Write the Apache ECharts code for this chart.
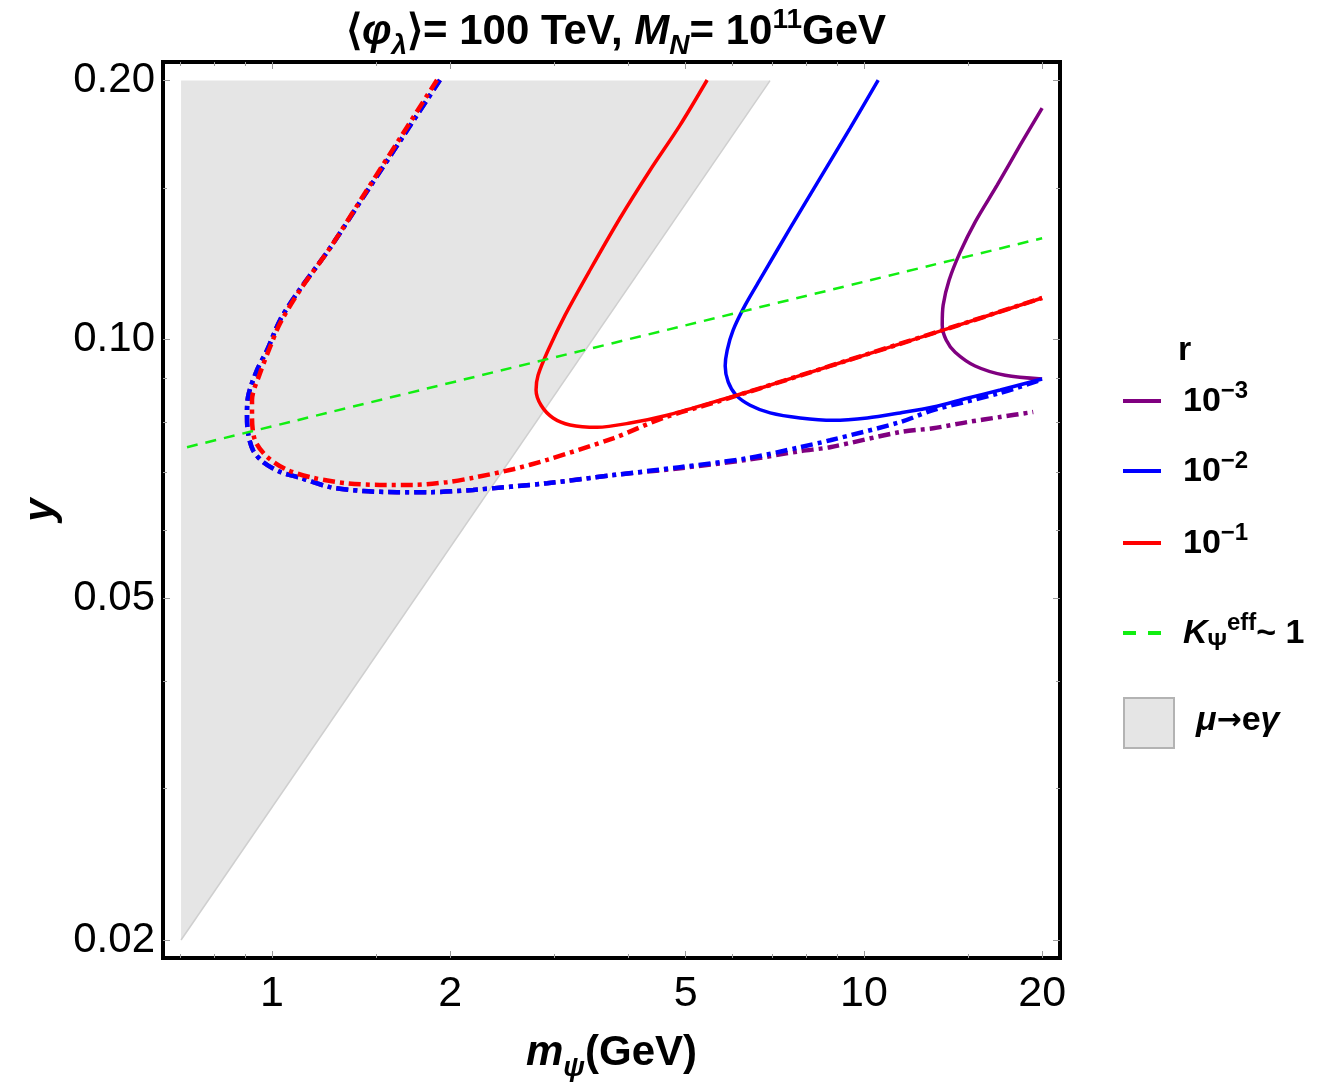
<!DOCTYPE html>
<html>
<head>
<meta charset="utf-8">
<title>y vs m_psi</title>
<script src="https://cdn.jsdelivr.net/npm/echarts@6/dist/echarts.min.js"></script>
<style>
  html, body { margin: 0; padding: 0; background: #fff; }
  #main { width: 1328px; height: 1088px; }
</style>
</head>
<body>
<div id="main"></div>
<script>
// axis ranges and ticks
const xMin = 0.6544
const xMax = 21.44
const yMin = 0.01906
const yMax = 0.2102
const xTicks = [1, 2, 5, 10, 20]
const xMinorTicks = [0.7, 0.8, 0.9, 1.5, 3, 4, 6, 7, 8, 9, 15]
const yTicks = [0.02, 0.05, 0.1, 0.2]
const yMinorTicks = [0.03, 0.04, 0.06, 0.07, 0.08, 0.09, 0.15]

// r = 1e-1, solid
const redSolidX = [5.434, 4.891, 4.352, 3.873, 3.446, 3.127, 2.927, 2.815, 2.793, 2.848, 2.984, 3.188, 3.541, 4.026, 4.651, 5.562, 6.677, 8.767, 13.61, 20.0]
const redSolidY = [0.2003, 0.1775, 0.1573, 0.1384, 0.1204, 0.1067, 0.0971, 0.0908, 0.0873, 0.0838, 0.0810, 0.0795, 0.0790, 0.0799, 0.0816, 0.0845, 0.0877, 0.0931, 0.1025, 0.1117]
// r = 1e-1, dash-dot
const redDashX = [1.900, 1.645, 1.436, 1.253, 1.115, 1.032, 0.9922, 0.9544, 0.9252, 0.9252, 0.9360, 0.9808, 1.060, 1.173, 1.339, 1.522, 1.731, 1.976, 2.186, 2.554, 2.915, 3.770, 4.578, 5.562, 6.677, 8.767, 13.61, 20.0]
const redDashY = [0.2003, 0.1714, 0.1480, 0.1277, 0.1141, 0.1044, 0.0979, 0.0913, 0.0850, 0.0812, 0.0763, 0.0730, 0.0705, 0.0690, 0.0680, 0.0677, 0.0677, 0.0682, 0.0690, 0.0706, 0.0724, 0.0767, 0.0810, 0.0843, 0.0877, 0.0931, 0.1025, 0.1117]

// r = 1e-2, solid
const blueSolidX = [10.57, 9.477, 8.433, 7.505, 6.730, 6.300, 6.012, 5.874, 5.829, 5.897, 6.081, 6.422, 6.942, 7.802, 8.872, 10.13, 11.51, 13.09, 14.94, 16.99, 20.0]
const blueSolidY = [0.2003, 0.1761, 0.1540, 0.1347, 0.1185, 0.1096, 0.1025, 0.0971, 0.0931, 0.0892, 0.0861, 0.0838, 0.0821, 0.0810, 0.0805, 0.0810, 0.0821, 0.0834, 0.0854, 0.0873, 0.0899]
// r = 1e-2, dash-dot
const blueDashX = [1.922, 1.658, 1.441, 1.253, 1.106, 1.032, 0.9808, 0.9433, 0.9109, 0.9073, 0.9109, 0.9288, 0.9656, 1.032, 1.115, 1.253, 1.425, 1.626, 1.849, 2.186, 2.915, 3.770, 4.891, 6.347, 7.802, 8.767, 11.51, 13.09, 16.99, 20.0]
const blueDashY = [0.2003, 0.1714, 0.1480, 0.1277, 0.1135, 0.1053, 0.0971, 0.0921, 0.0857, 0.0816, 0.0778, 0.0743, 0.0720, 0.0701, 0.0690, 0.0673, 0.0666, 0.0664, 0.0664, 0.0668, 0.0680, 0.0695, 0.0710, 0.0727, 0.0749, 0.0763, 0.0801, 0.0827, 0.0866, 0.0898]

// r = 1e-3, solid
const purpleSolidX = [20.0, 18.36, 16.80, 15.41, 14.54, 13.93, 13.61, 13.56, 13.77, 14.26, 15.41, 17.32, 20.0]
const purpleSolidY = [0.1858, 0.1682, 0.1512, 0.1369, 0.1263, 0.1172, 0.1096, 0.1039, 0.0998, 0.0966, 0.0931, 0.0908, 0.0899]
// r = 1e-3, dash-dot
const purpleDashX = [1.922, 1.658, 1.441, 1.253, 1.106, 1.032, 0.9808, 0.9433, 0.9109, 0.9073, 0.9109, 0.9288, 0.9656, 1.032, 1.115, 1.253, 1.425, 1.626, 1.849, 2.186, 2.915, 3.770, 4.891, 6.347, 7.802, 8.767, 11.51, 13.09, 14.94, 16.99, 19.32]
const purpleDashY = [0.2003, 0.1714, 0.1480, 0.1277, 0.1135, 0.1053, 0.0971, 0.0921, 0.0857, 0.0816, 0.0778, 0.0743, 0.0720, 0.0701, 0.0690, 0.0673, 0.0666, 0.0664, 0.0664, 0.0668, 0.0680, 0.0695, 0.0708, 0.0724, 0.0741, 0.0749, 0.0780, 0.0788, 0.0801, 0.0812, 0.0823]

// K_psi^eff ~ 1
const kEffX = [0.7185, 20.0]
const kEffY = [0.0749, 0.1311]

// mu -> e gamma excluded region
const muegX = [0.702, 6.94, 0.702]
const muegY = [0.2, 0.2, 0.02]

const zip = (xs, ys) => xs.map((x, i) => [x, ys[i]])

const F = "'Liberation Sans', Arial, sans-serif"
const tickColor = '#9a9a9a'

const xAx = (pos, ticks, len, labels) => ({
  type: 'log', position: pos, min: xMin, max: xMax,
  axisLine: { show: false }, splitLine: { show: false },
  axisTick: { show: true, inside: true, length: len, customValues: ticks, lineStyle: { color: tickColor, width: 1 } },
  axisLabel: labels ? {
    customValues: xTicks, margin: 15, color: '#000', fontFamily: F, fontSize: 43,
    formatter: v => String(+v.toFixed(2))
  } : { show: false }
})
const yAx = (pos, ticks, len, labels) => ({
  type: 'log', position: pos, min: yMin, max: yMax,
  axisLine: { show: false }, splitLine: { show: false },
  axisTick: { show: true, inside: true, length: len, customValues: ticks, lineStyle: { color: tickColor, width: 1 } },
  axisLabel: labels ? {
    customValues: yTicks, margin: 8, color: '#000', fontFamily: F, fontSize: 42,
    formatter: v => (+v).toFixed(2)
  } : { show: false }
})

const xAxes = [xAx('bottom', xTicks, 7, true), xAx('bottom', xMinorTicks, 4), xAx('top', xTicks, 7), xAx('top', xMinorTicks, 4)]
xAxes[0].name = '{bi|m}{sub|ψ}{b|(GeV)}'
xAxes[0].nameLocation = 'middle'
xAxes[0].nameGap = 74
xAxes[0].nameTextStyle = {
  rich: {
    b: { fontFamily: F, fontWeight: 'bold', fontSize: 42, color: '#000', verticalAlign: 'bottom', padding: [0, 0, 8, 0] },
    bi: { fontFamily: F, fontWeight: 'bold', fontStyle: 'italic', fontSize: 42, color: '#000', verticalAlign: 'bottom', padding: [0, 0, 8, 0] },
    sub: { fontFamily: F, fontWeight: 'bold', fontStyle: 'italic', fontSize: 28, color: '#000', verticalAlign: 'bottom' }
  }
}
const yAxes = [yAx('left', yTicks, 7, true), yAx('left', yMinorTicks, 4), yAx('right', yTicks, 7), yAx('right', yMinorTicks, 4)]
yAxes[0].name = 'y'
yAxes[0].nameLocation = 'middle'
yAxes[0].nameGap = 100
yAxes[0].nameTextStyle = { fontFamily: F, fontWeight: 'bold', fontStyle: 'italic', fontSize: 42, color: '#000' }

const legendRich = {
  g: { width: 17 },
  b: { fontFamily: F, fontWeight: 'bold', fontSize: 34, color: '#000', verticalAlign: 'bottom', padding: [0, 0, 4, 0] },
  arr: { fontFamily: 'DejaVu Sans', fontWeight: 'bold', fontSize: 30, color: '#000', verticalAlign: 'bottom', padding: [0, 0, 6, 0] },
  sup: { fontFamily: F, fontWeight: 'bold', fontSize: 24, color: '#000', verticalAlign: 'bottom', padding: [0, 0, 20, 0] },
  bi: { fontFamily: F, fontWeight: 'bold', fontStyle: 'italic', fontSize: 34, color: '#000', verticalAlign: 'bottom', padding: [0, 0, 4, 0] },
  sub: { fontFamily: F, fontWeight: 'bold', fontSize: 24, color: '#000', verticalAlign: 'bottom' }
}
const legendText = {
  'r = 1e-3': '{g|}{b|10}{sup|−3}',
  'r = 1e-2': '{g|}{b|10}{sup|−2}',
  'r = 1e-1': '{g|}{b|10}{sup|−1}',
  'K eff': '{g|}{bi|K}{sub|Ψ}{sup|eff}{b|~ 1}',
  'mu e gamma': '{g|}{bi|μ}{arr|→}{b|e}{bi|γ}'
}
const mkLegend = (name, top, w, h, extra) => ({
  left: 1123, top: top, padding: 0, orient: 'vertical', selectedMode: false,
  itemWidth: w, itemHeight: h,
  data: [Object.assign({ name: name }, extra || {})],
  formatter: n => legendText[n],
  textStyle: { rich: legendRich }
})

const line = (name, xs, ys, color, width, type, z) => ({
  name: name, type: 'line', data: zip(xs, ys), symbol: 'none', smooth: 0.3,
  lineStyle: { color: color, width: width, type: type },
  itemStyle: { color: color }, z: z, silent: true
})
const dashDot = [12, 5, 4, 5]

const chart = echarts.init(document.getElementById('main'))
chart.setOption({
  animation: false,
  backgroundColor: '#fff',
  title: {
    text: '{a|⟨}{bi|φ}{si|λ}{a|⟩= 100 TeV, }{bi|M}{si|N}{a|= 10}{sup|11}{a|GeV}',
    left: 611, top: 1, textAlign: 'center',
    textStyle: {
      rich: {
        a: { fontFamily: F, fontWeight: 'bold', fontSize: 42, color: '#000', verticalAlign: 'bottom', padding: [0, 0, 7, 0] },
        bi: { fontFamily: F, fontWeight: 'bold', fontStyle: 'italic', fontSize: 42, color: '#000', verticalAlign: 'bottom', padding: [0, 0, 7, 0] },
        si: { fontFamily: F, fontWeight: 'bold', fontStyle: 'italic', fontSize: 28, color: '#000', verticalAlign: 'bottom' },
        sup: { fontFamily: F, fontWeight: 'bold', fontSize: 28, color: '#000', verticalAlign: 'bottom', padding: [0, 0, 26, 0] }
      }
    }
  },
  grid: { left: 163, right: 268, top: 62, bottom: 130, show: true, borderColor: '#000', borderWidth: 4, backgroundColor: 'transparent' },
  xAxis: xAxes,
  yAxis: yAxes,
  legend: [
    mkLegend('r = 1e-3', 379, 38, 4, { icon: 'rect', itemStyle: { color: '#800080' } }),
    mkLegend('r = 1e-2', 449, 38, 4, { icon: 'rect', itemStyle: { color: '#0000ff' } }),
    mkLegend('r = 1e-1', 521, 38, 4, { icon: 'rect', itemStyle: { color: '#ff0000' } }),
    mkLegend('K eff', 611, 38, 4, { icon: 'path://M0,0h13v4h-13z M25,0h13v4h-13z', itemStyle: { color: '#11ee11' } }),
    mkLegend('mu e gamma', 697, 50, 50, { icon: 'rect', itemStyle: { color: '#e5e5e5', borderColor: '#b3b3b3', borderWidth: 2 } })
  ],
  graphic: [{
    type: 'text', left: 1178, top: 334,
    style: { text: 'r', font: "bold 34px 'Liberation Sans', Arial, sans-serif", fill: '#000' }
  }],
  series: [
    {
      name: 'mu e gamma', type: 'custom', data: zip(muegX, muegY), encode: { x: 0, y: 1 }, z: 1, silent: true,
      itemStyle: { color: '#e5e5e5', borderColor: '#b3b3b3', borderWidth: 2 },
      renderItem: (params, api) => {
        if (params.dataIndex !== 0) return
        const pts = muegX.map((x, i) => api.coord([x, muegY[i]]))
        return { type: 'polygon', shape: { points: pts }, style: { fill: '#e5e5e5' } }
      }
    },
    line('mu e gamma edge', [muegX[2], muegX[1]], [muegY[2], muegY[1]], '#cfcfcf', 1.5, 'solid', 2),
    line('r = 1e-3 dd', purpleDashX, purpleDashY, '#800080', 4.5, dashDot, 3),
    line('r = 1e-2 dd', blueDashX, blueDashY, '#0000ff', 4.5, dashDot, 4),
    line('r = 1e-1 dd', redDashX, redDashY, '#ff0000', 4.5, dashDot, 5),
    line('r = 1e-3', purpleSolidX, purpleSolidY, '#800080', 3.5, 'solid', 6),
    line('r = 1e-2', blueSolidX, blueSolidY, '#0000ff', 3.5, 'solid', 7),
    line('r = 1e-1', redSolidX, redSolidY, '#ff0000', 3.5, 'solid', 8),
    line('K eff', kEffX, kEffY, '#11ee11', 2.5, [11, 8], 9)
  ]
})
</script>
</body>
</html>
